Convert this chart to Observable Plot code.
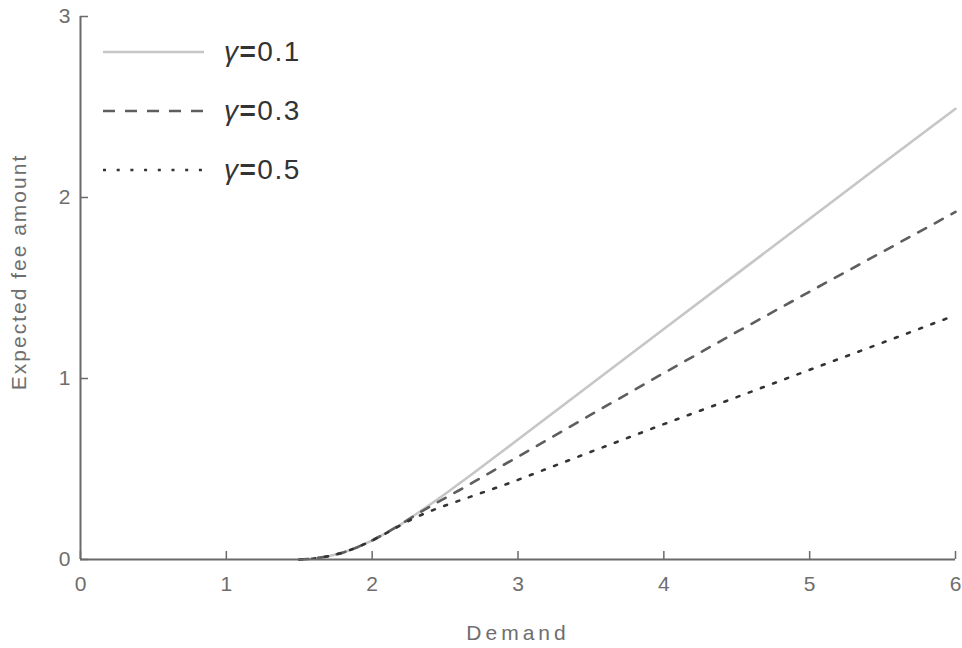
<!DOCTYPE html>
<html>
<head>
<meta charset="utf-8">
<script src="https://cdn.jsdelivr.net/npm/d3@7"></script>
<script src="https://cdn.jsdelivr.net/npm/@observablehq/plot@0.6"></script>
<style>
  html, body { margin: 0; padding: 0; background: #fff; }
  #wrap { position: relative; width: 962px; height: 648px; font-family: "Liberation Sans", Arial, sans-serif; }
  #legend { position: absolute; left: 100px; top: 22px; }
  .row { display: flex; align-items: center; height: 59px; }
  .lab { font-size: 28px; color: #333; margin-left: 18px; letter-spacing: 1.5px; }
  .lab i { font-style: italic; }
  .lab b { font-weight: bold; }
</style>
</head>
<body>
<div id="wrap"><div id="chart"></div><div id="legend"></div></div>
<script>
const demand = [1.5, 1.6, 1.7, 1.8, 1.9, 2.0, 2.1, 2.2, 2.3, 2.4, 2.5, 2.6, 2.7, 2.8, 2.9, 3.0, 3.5, 4.0, 4.5, 5.0, 5.5, 6.0];
const fee01 = [0, 0.005, 0.018, 0.038, 0.068, 0.105, 0.148, 0.196, 0.25, 0.305, 0.362, 0.421, 0.481, 0.541, 0.602, 0.663, 0.968, 1.273, 1.578, 1.883, 2.188, 2.49];
const fee03 = [0, 0.005, 0.018, 0.038, 0.068, 0.105, 0.148, 0.196, 0.247, 0.294, 0.339, 0.384, 0.43, 0.476, 0.522, 0.568, 0.8, 1.03, 1.257, 1.48, 1.70, 1.92];
const fee05 = [0, 0.005, 0.018, 0.038, 0.068, 0.105, 0.147, 0.192, 0.234, 0.268, 0.298, 0.326, 0.354, 0.382, 0.41, 0.44, 0.595, 0.748, 0.897, 1.048, 1.198, 1.35];
const seriesLabels = ["0.1", "0.3", "0.5"];
const xTicks = [0, 1, 2, 3, 4, 5, 6];
const yTicks = [0, 1, 2, 3];
const xLabel = "Demand";
const yLabel = "Expected fee amount";

const styles = [
  {stroke: "#c6c6c6", dash: null, width: 2.6},
  {stroke: "#5e5e5e", dash: "9,10", width: 2.6},
  {stroke: "#333333", dash: "3,10", width: 2.6}
];
const feeSeries = [fee01, fee03, fee05];
const rows = feeSeries.map(vals => demand.map((d, i) => ({d, v: vals[i]})));

const axisColor = "#6a6a6a";
const textColor = "#6e6e6e";
const fmt = d => String(d);

const chart = Plot.plot({
  width: 962,
  height: 648,
  marginLeft: 80,
  marginRight: 7,
  marginTop: 16,
  marginBottom: 89,
  style: {fontFamily: "Liberation Sans, Arial, sans-serif", fontSize: "21px", color: textColor, background: "#fff"},
  x: {domain: [0, 6]},
  y: {domain: [0, 3]},
  marks: [
    ...rows.map((r, k) => Plot.line(r, {
      x: "d", y: "v",
      stroke: styles[k].stroke,
      strokeWidth: styles[k].width,
      strokeDasharray: styles[k].dash
    })),
    Plot.ruleY([0], {stroke: axisColor, strokeWidth: 2}),
    Plot.ruleX([0], {stroke: axisColor, strokeWidth: 2}),
    Plot.axisX(xTicks, {tickSize: 8, dy: -8, text: null, label: null, stroke: axisColor, strokeWidth: 1.5}),
    Plot.axisX(xTicks, {tickSize: 0, tickPadding: 17, tickFormat: fmt, fill: textColor, fontSize: 21, label: null}),
    Plot.axisY(yTicks, {tickSize: 8, dx: 8, text: null, label: null, stroke: axisColor, strokeWidth: 1.5}),
    Plot.axisY(yTicks, {tickSize: 0, tickPadding: 10, tickFormat: fmt, fill: textColor, fontSize: 21, label: null}),
    Plot.text([xLabel], {frameAnchor: "bottom", textAnchor: "middle", lineAnchor: "middle", dy: 74, fill: textColor, fontSize: 21}),
    Plot.text([yLabel], {frameAnchor: "left", textAnchor: "middle", lineAnchor: "middle", rotate: -90, dx: -61, dy: -16, fill: textColor, fontSize: 21})
  ]
});
document.getElementById("chart").appendChild(chart);

d3.select(chart).selectAll("text").filter(function() { return this.textContent === xLabel; }).style("letter-spacing", "4px");
d3.select(chart).selectAll("text").filter(function() { return this.textContent === yLabel; }).style("letter-spacing", "2px");

// legend
const legend = document.getElementById("legend");
seriesLabels.forEach((lab, k) => {
  const row = document.createElement("div");
  row.className = "row";
  const s = styles[k];
  const dashLegend = k === 1 ? "12,10" : (k === 2 ? "3,10.7" : null);
  row.innerHTML = `<svg width="106" height="10"><line x1="3" x2="104" y1="5" y2="5" stroke="${s.stroke}" stroke-width="${s.width}" ${dashLegend ? `stroke-dasharray="${dashLegend}"` : ""}></line></svg>` +
    `<span class="lab"><i>γ</i><b>=</b>${lab}</span>`;
  legend.appendChild(row);
});
</script>
</body>
</html>
